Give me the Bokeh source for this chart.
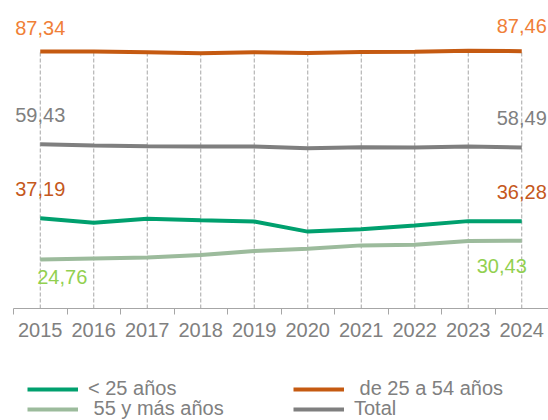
from bokeh.plotting import figure
from bokeh.layouts import column
from bokeh.models import Range1d, FixedTicker, Legend, LegendItem
from bokeh.embed import file_html
from bokeh.resources import INLINE
from bokeh.core.properties import value

# ---- data ----
years = [2015, 2016, 2017, 2018, 2019, 2020, 2021, 2022, 2023, 2024]
menores_25 = [37.19, 35.78, 36.99, 36.58, 36.18, 33.15, 33.86, 34.97, 36.30, 36.28]
de_25_a_54 = [87.34, 87.38, 87.10, 86.82, 87.12, 86.92, 87.22, 87.32, 87.62, 87.46]
de_55_mas = [24.76, 25.06, 25.37, 26.07, 27.28, 27.99, 29.00, 29.20, 30.31, 30.43]
total = [59.43, 59.03, 58.83, 58.73, 58.73, 58.22, 58.53, 58.43, 58.73, 58.49]
series_names = ["< 25 años", " de 25 a 54 años", " 55 y más años", "Total"]

FONT = "Liberation Sans"
GRAY_TXT = "#808080"

p = figure(width=548, height=368, x_range=Range1d(2014.5, 2024.5), y_range=Range1d(10, 100),
           output_backend="svg", toolbar_location=None, y_axis_location=None,
           min_border_left=13, min_border_right=0, min_border_top=9, min_border_bottom=60)
p.grid.visible = False
p.outline_line_color = None

# x axis: labels at category centres, ticks at boundaries
ax = p.xaxis[0]
ax.ticker = FixedTicker(ticks=years, minor_ticks=[y - 0.5 for y in years] + [years[-1] + 0.5])
ax.major_tick_out = 0
ax.major_tick_in = 0
ax.minor_tick_out = 6
ax.minor_tick_in = 0
ax.minor_tick_line_color = "#A6A6A6"
ax.axis_line_color = "#A6A6A6"
ax.major_label_text_color = GRAY_TXT
ax.major_label_text_font = FONT
ax.major_label_text_font_size = "20px"
ax.major_label_standoff = 8

# dashed drop lines from axis to the highest series
tops = [max(a, b, c, d) for a, b, c, d in zip(menores_25, de_25_a_54, de_55_mas, total)]
p.segment(x0=years, y0=[10] * len(years), x1=years, y1=tops,
          line_color="#A6A6A6", line_width=1, line_dash="4 2")

colors = ["#00A06E", "#C55A11", "#9CBB9C", "#7F7F7F"]
data = [menores_25, de_25_a_54, de_55_mas, total]
for vals, col in zip(data, colors):
    p.line(years, vals, line_color=col, line_width=4)

def fmt(v):
    return f"{v:.2f}".replace(".", ",")

# end labels: (series, colour, left y-offset, right y-offset, left align, right align, left x-off, right x-off)
label_styles = [
    (de_25_a_54, "#F07F38", -24, -25, "center", "center", 0, 0),
    (total, "#808080", -29, -29, "center", "center", 0, 0),
    (menores_25, "#C5581C", -29, -29, "center", "center", 0, 0),
    (de_55_mas, "#92D050", 18, 25, "left", "right", -3, 5),
]
for vals, col, yl, yr, al, ar, xl, xr in label_styles:
    p.text(x=[years[0]], y=[vals[0]], text=[fmt(vals[0])], text_color=col,
           text_font=value(FONT), text_font_size="20px", text_align=al,
           text_baseline="middle", y_offset=yl, x_offset=xl)
    p.text(x=[years[-1]], y=[vals[-1]], text=[fmt(vals[-1])], text_color=col,
           text_font=value(FONT), text_font_size="20px", text_align=ar,
           text_baseline="middle", y_offset=yr, x_offset=xr)

# ---- legend strip (series drawn outside its visible range, only the legend shows) ----
p2 = figure(width=548, height=52, x_range=Range1d(2014.5, 2024.5), y_range=Range1d(0, 1),
            output_backend="svg", toolbar_location=None, x_axis_location=None, y_axis_location=None,
            min_border_left=13, min_border_right=0, min_border_top=0, min_border_bottom=0)
p2.grid.visible = False
p2.outline_line_color = None
renderers = [p2.line(years, vals, line_color=col, line_width=4) for vals, col in zip(data, colors)]

legend_style = dict(orientation="horizontal", padding=0, margin=0, spacing=0,
                    glyph_width=51, glyph_height=20, label_height=20, label_width=205,
                    label_standoff=10, border_line_color=None, background_fill_alpha=0,
                    label_text_font=FONT, label_text_font_size="20px", label_text_color=GRAY_TXT)
rows = [(0, 1), (2, 3)]
for row_idx, (a, b) in enumerate(rows):
    items = [LegendItem(label=series_names[i], renderers=[renderers[i]]) for i in (a, b)]
    lg = Legend(items=items, location=(14, 20 - 20 * row_idx), **legend_style)
    p2.add_layout(lg, "center")

layout = column(p, p2, spacing=0)
open("out.html", "w").write(file_html(layout, INLINE))
